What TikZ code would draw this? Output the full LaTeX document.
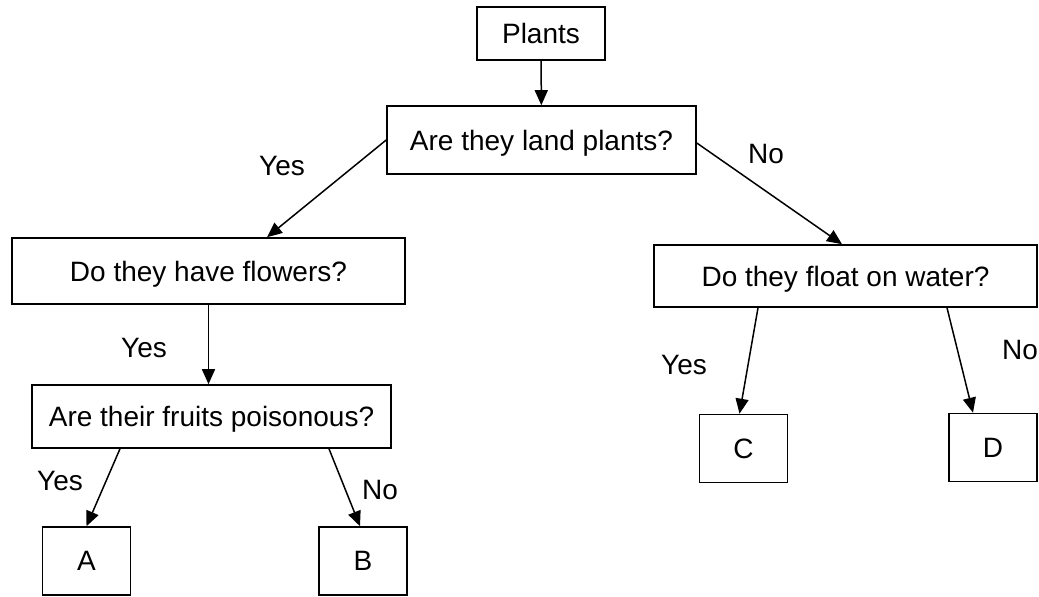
\documentclass[tikz,border=0pt]{standalone}
\usepackage{fontspec}
\setmainfont{Liberation Sans}
\usetikzlibrary{arrows.meta}
\tikzset{
    block/.style = {draw, rectangle, line width=0.8pt, inner sep=0pt, text depth=0pt,
        font=\fontsize{14}{17}\selectfont, align=center},
    leaf/.style = {block, minimum width=44pt, minimum height=34pt},
    answer/.style = {font=\fontsize{14}{17}\selectfont, inner sep=0pt},
    arrow/.style = {draw, line width=0.75pt, -{Triangle[length=7.5pt,width=6.5pt]}}
}

\begin{document}
\begin{tikzpicture}[x=0.5pt, y=-0.5pt]
    \useasboundingbox (0,0) rectangle (1039,596);
    \node [block, minimum width=64pt, minimum height=26.5pt] (plants) at (541,33.5) {Plants};
    \node [block, minimum width=154.5pt, minimum height=34pt] (land) at (541.5,140) {Are they land plants?};
    \node [block, minimum width=196.5pt, minimum height=33pt] (flowers) at (208.5,271) {Do they have flowers?};
    \node [block, minimum width=191.5pt, minimum height=31pt] (float) at (845.5,276) {Do they float on water?};
    \node [block, minimum width=179.5pt, minimum height=31.5pt] (fruits) at (211.5,416.5) {Are their fruits poisonous?};
    \foreach \n/\x/\y in {A/86.5/561, B/363/561, C/743.5/448.5, D/993/447.5}{
        \node [leaf] (\n) at (\x,\y) {\n};
    }
    \draw [arrow] (plants) -- (land);
    \draw [arrow] (land.west) -- ([xshift=29.25pt]flowers.north);
    \draw [arrow] ([yshift=-1.5pt]land.east) -- ([xshift=-1.75pt]float.north);
    \draw [arrow] (flowers.south) -- (flowers.south |- fruits.north);
    \draw [arrow] ([xshift=-45.75pt]fruits.south) -- (A.north);
    \draw [arrow] ([xshift=58.75pt]fruits.south) -- ([xshift=-1.5pt]B.north);
    \draw [arrow] ([xshift=-43.75pt]float.south) -- ([xshift=-2pt]C.north);
    \draw [arrow] ([xshift=50.75pt]float.south) -- ([xshift=-10pt]D.north);
    \node [answer] (yes1) at (282,166) {Yes};
    \node [answer] (no1) at (766,154) {No};
    \node [answer] (yes2) at (144,348) {Yes};
    \node [answer] (yes3) at (684,365) {Yes};
    \node [answer] (no2) at (1020,350) {No};
    \node [answer] (yes4) at (60,481) {Yes};
    \node [answer] (no3) at (380,490) {No};
\end{tikzpicture}
\end{document}
